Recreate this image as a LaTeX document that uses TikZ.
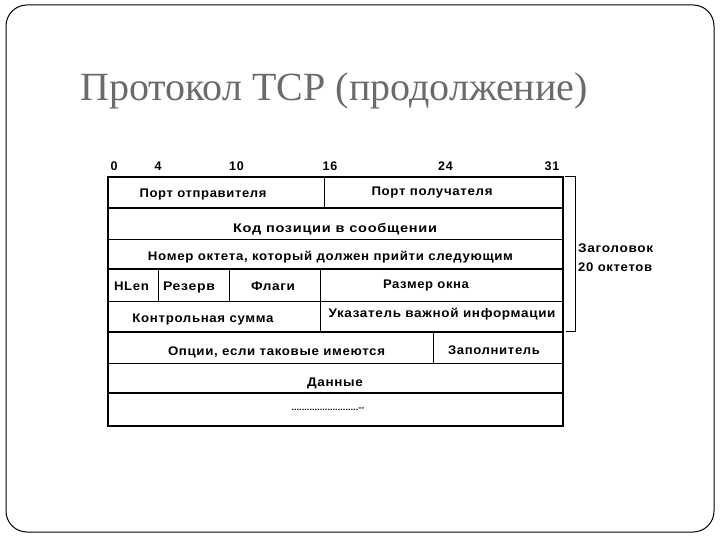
\documentclass[tikz,border=0pt]{standalone}
\usepackage{graphicx}
\usepackage{fontspec}
\setmainfont{Liberation Serif}
\newfontfamily\fieldfont[LetterSpace=5]{Liberation Sans Bold}
\newfontfamily\dotsfont{Liberation Sans Bold}
\usetikzlibrary{positioning}
\definecolor{titlegray}{HTML}{6B6B6B}
% stretch a label to the width it has in the picture
\newcommand{\fitto}[2]{\resizebox{#1pt}{\height}{#2}}
\tikzset{
  tcp-field/.style={font=\fieldfont\fontsize{12.5}{14}\selectfont, inner sep=0pt, anchor=base},
  tcp-bit/.style={font=\fieldfont\fontsize{12.5}{14}\selectfont, inner sep=0pt, anchor=base},
  tcp-thick/.style={line width=2pt},
  tcp-thin/.style={line width=1pt}
}

\begin{document}
\begin{tikzpicture}[x=1pt, y=-1pt]
  \useasboundingbox (0,0) rectangle (720,540);
  % slide frame and title
  \draw[line width=1pt, rounded corners=21pt] (6,5) rectangle (714,532);
  \node[font=\fontsize{40}{44}\selectfont, text=titlegray, anchor=west, inner sep=0pt] (title) at (80,91) {Протокол TCP (продолжение)};

  % bit numbers
  \node[tcp-bit] (b0)  at (114,171) {0};
  \node[tcp-bit] (b4)  at (158,171) {4};
  \node[tcp-bit] (b10) at (236.5,171) {10};
  \node[tcp-bit] (b16) at (330,171) {16};
  \node[tcp-bit] (b24) at (445.5,171) {24};
  \node[tcp-bit] (b31) at (552,171) {31};

  % header rows
  \draw[tcp-thick] (108,208) -- (563,208);
  \draw[tcp-thin]  (108,239) -- (563,239);
  \draw[tcp-thick] (108,269) -- (563,269);
  \draw[tcp-thin]  (108,301) -- (563,301);
  \draw[tcp-thick] (108,332) -- (563,332);
  \draw[tcp-thin]  (108,363) -- (563,363);
  \draw[tcp-thick] (108,393) -- (563,393);
  \draw[tcp-thin]  (324,177) -- (324,208);
  \draw[tcp-thin]  (158,269) -- (158,301);
  \draw[tcp-thin]  (229,269) -- (229,301);
  \draw[tcp-thin]  (320,269) -- (320,332);
  \draw[tcp-thin]  (433,332) -- (433,363);
  \draw[line width=2.5pt] (108,177) rectangle (563,426);

  % field names
  \node[tcp-field] (srcport)  at (203,198)   {\fitto{127}{Порт отправителя}};
  \node[tcp-field] (dstport)  at (432,196)   {\fitto{121}{Порт получателя}};
  \node[tcp-field] (seq)      at (335,232)   {\fitto{204}{Код позиции в сообщении}};
  \node[tcp-field] (ack)      at (330.5,260) {\fitto{365}{Номер октета, который должен прийти следующим}};
  \node[tcp-field] (hlen)     at (131.5,290) {\fitto{35}{HLen}};
  \node[tcp-field] (resv)     at (189,290)   {\fitto{52}{Резерв}};
  \node[tcp-field] (flags)    at (273,290)   {\fitto{44}{Флаги}};
  \node[tcp-field] (window)   at (426,288)   {\fitto{86}{Размер окна}};
  \node[tcp-field] (checksum) at (203,322)   {\fitto{141}{Контрольная сумма}};
  \node[tcp-field] (urgent)   at (442,317)   {\fitto{227}{Указатель важной информации}};
  \node[tcp-field] (options)  at (276.5,355) {\fitto{217}{Опции, если таковые имеются}};
  \node[tcp-field] (padding)  at (494,354)   {\fitto{92}{Заполнитель}};
  \node[tcp-field] (data)     at (335,386)   {\fitto{56}{Данные}};
  \node[tcp-field, font=\dotsfont\fontsize{8}{9}\selectfont] (more) at (328,410) {\fitto{73}{..........................--}};

  % header bracket
  \draw[line width=1pt] (565,177) -- (575,177) -- (575,331) -- (566,331);
  \node[tcp-field, anchor=base west] (hdrnote) at (578,253) {\fitto{75}{Заголовок}};
  \node[tcp-field, anchor=base west] (hdrsize) at (578,271) {\fitto{74}{20 октетов}};
\end{tikzpicture}
\end{document}
